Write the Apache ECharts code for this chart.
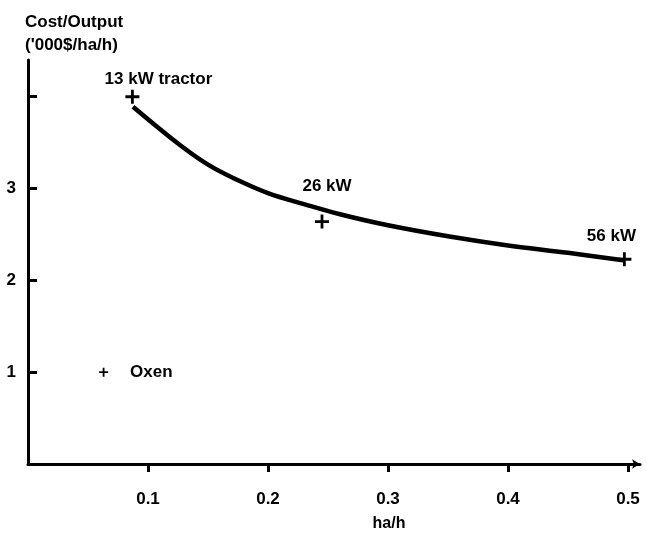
<!DOCTYPE html>
<html>
<head>
<meta charset="utf-8">
<script src="https://cdn.jsdelivr.net/npm/echarts@6/dist/echarts.min.js"></script>
<style>
  html, body { margin: 0; padding: 0; background: #fff; }
  #chart { width: 646px; height: 540px; }
</style>
</head>
<body>
<div id="chart"></div>
<script>
// tractor points
const tractorNames = ['13 kW tractor', '26 kW', '56 kW'];
const tractorX = [0.087, 0.245, 0.497];
const tractorY = [4.0, 2.64, 2.23];

// oxen point
const oxenNames = ['Oxen'];
const oxenX = [0.063];
const oxenY = [1.0];

// fitted curve
const curveX = [0.0875, 0.105, 0.125, 0.15, 0.175, 0.2, 0.23, 0.26, 0.3, 0.35, 0.4, 0.45, 0.496];
const curveY = [3.89, 3.70, 3.49, 3.26, 3.09, 2.95, 2.83, 2.72, 2.60, 2.48, 2.38, 2.30, 2.22];

// ticks
const xTicks = [0.1, 0.2, 0.3, 0.4, 0.5];
const yTicks = [1, 2, 3, 4];
const yTickLabels = [1, 2, 3];

const plus = 'path://M4,0H6V4H10V6H6V10H4V6H0V4H4Z';
const font = 'Liberation Sans';
const labelOffsets = [[26, 3], [5, -15], [-13, -2]];

const chart = echarts.init(document.getElementById('chart'));

const option = {
  backgroundColor: '#fff',
  animation: false,
  textStyle: { fontFamily: font, color: '#000' },
  grid: { left: 28, right: 6, top: 60, bottom: 76, containLabel: false },
  xAxis: {
    type: 'value',
    min: 0,
    max: 0.51,
    name: 'ha/h',
    nameLocation: 'middle',
    nameGap: 52,
    nameTextStyle: { fontSize: 16, fontWeight: 'bold', color: '#000', padding: [0, 0, 0, 110] },
    axisLine: { lineStyle: { color: '#000', width: 3 }, symbol: ['none', 'arrow'], symbolSize: [7, 8] },
    axisTick: { show: true, inside: false, length: 8, lineStyle: { color: '#000', width: 3 }, customValues: xTicks },
    axisLabel: {
      customValues: xTicks, margin: 27, fontSize: 17, fontWeight: 'bold', color: '#000',
      formatter: v => v.toFixed(1)
    },
    splitLine: { show: false }
  },
  yAxis: {
    type: 'value',
    min: 0,
    max: 4.4,
    name: "Cost/Output\n('000$/ha/h)",
    nameLocation: 'end',
    nameGap: 3,
    nameTextStyle: { fontSize: 17, fontWeight: 'bold', color: '#000', align: 'left', lineHeight: 23, padding: [0, 0, 0, -3] },
    axisLine: { lineStyle: { color: '#000', width: 3 } },
    axisTick: { show: true, inside: true, length: 9, lineStyle: { color: '#000', width: 3 }, customValues: yTicks },
    axisLabel: { customValues: yTickLabels, margin: 12, fontSize: 17, fontWeight: 'bold', color: '#000' },
    splitLine: { show: false }
  },
  series: [
    {
      type: 'line',
      data: curveX.map((x, i) => [x, curveY[i]]),
      smooth: 0.4,
      showSymbol: false,
      lineStyle: { color: '#000', width: 4.5 },
      z: 2
    },
    {
      type: 'scatter',
      data: tractorX.map((x, i) => ({
        value: [x, tractorY[i]],
        name: tractorNames[i],
        label: { offset: labelOffsets[i] }
      })),
      symbol: plus,
      symbolSize: 14,
      itemStyle: { color: '#000', opacity: 1 },
      label: {
        show: true, position: 'top', formatter: p => p.name,
        fontSize: 17, fontWeight: 'bold', color: '#000'
      },
      z: 3
    },
    {
      type: 'scatter',
      data: oxenX.map((x, i) => ({ value: [x, oxenY[i]], name: oxenNames[i] })),
      symbol: plus,
      symbolSize: 9,
      itemStyle: { color: '#000', opacity: 1 },
      label: {
        show: true, position: 'right', distance: 22, formatter: p => p.name,
        fontSize: 17, fontWeight: 'bold', color: '#000'
      },
      z: 3
    }
  ]
};

chart.setOption(option);
</script>
</body>
</html>
